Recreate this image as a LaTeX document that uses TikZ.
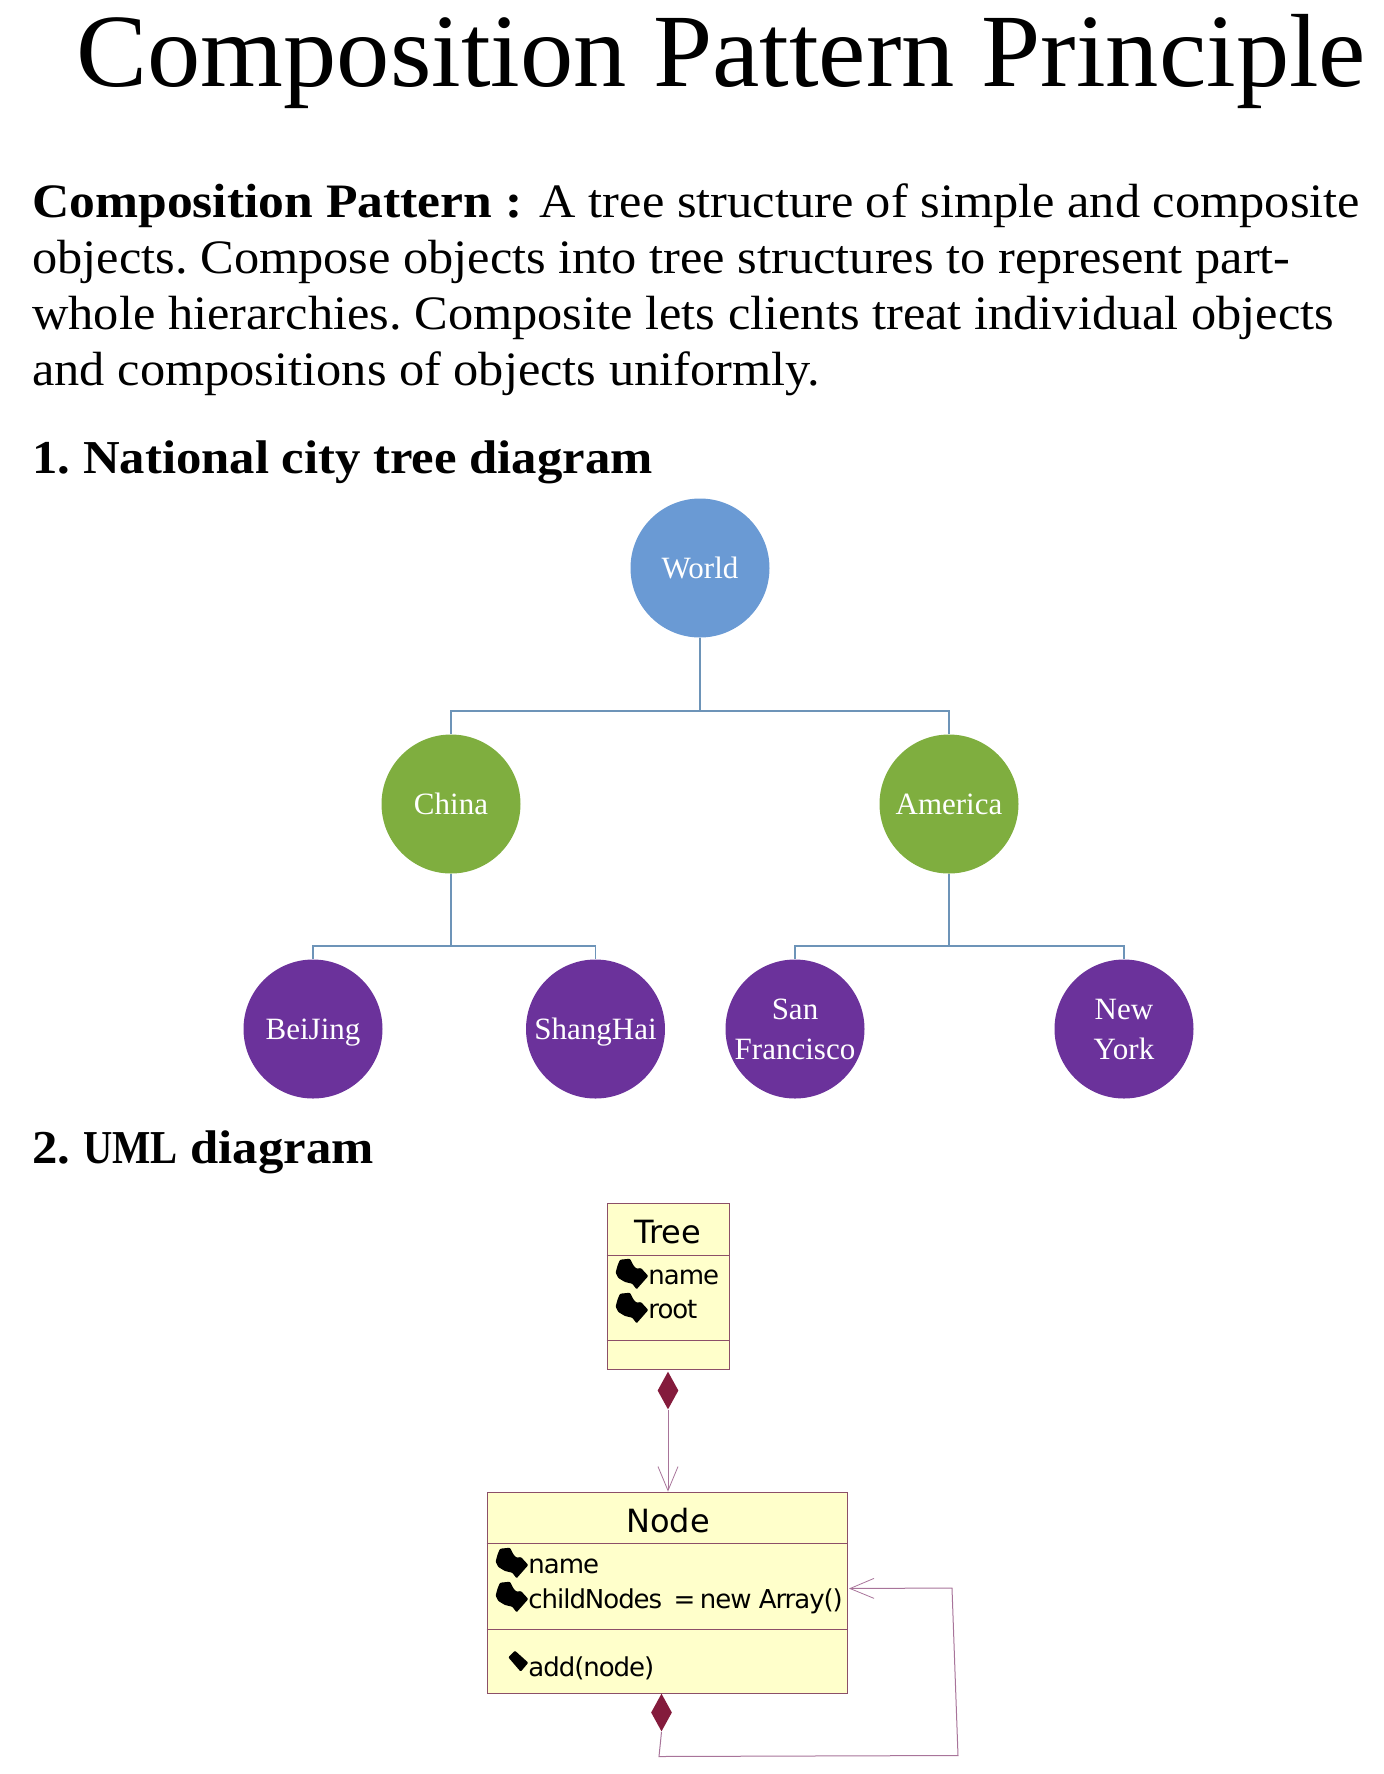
\documentclass[tikz,border=0pt]{standalone}
\usepackage{graphicx}
\usepackage{fontspec}
\usetikzlibrary{positioning, arrows.meta, shapes.geometric}
\setmainfont[FakeStretch=1.05, BoldFeatures={FakeStretch=1.075}]{Liberation Serif}
\newfontfamily\titlefont[FakeStretch=1.024]{Liberation Serif}
\newfontfamily\cityfont{Liberation Serif}
\newfontfamily\umlfont{DejaVu Sans}
\newfontfamily\umltextfont[LetterSpace=-4]{DejaVu Sans}

\definecolor{worldblue}{HTML}{6A9AD4}
\definecolor{countrygreen}{HTML}{7FAE3F}
\definecolor{citypurple}{HTML}{6B329B}
\definecolor{branchblue}{HTML}{6D94B8}
\definecolor{umlfill}{HTML}{FFFFCB}
\definecolor{umlred}{HTML}{841B3C}
\definecolor{umlborder}{HTML}{8C4F68}
\definecolor{umlline}{HTML}{A8749A}

\tikzset{
  heading/.style={anchor=base west, inner sep=0pt, font=\fontsize{23.6}{28}\selectfont\bfseries},
  circlenode/.style={circle, minimum size=69.5pt, inner sep=0pt, text=white, align=center,
    font=\cityfont\fontsize{15.5}{20}\selectfont},
  worldnode/.style={circlenode, fill=worldblue},
  countrynode/.style={circlenode, fill=countrygreen},
  citynode/.style={circlenode, fill=citypurple},
  branch/.style={draw=branchblue, line width=0.7pt},
  umlbox/.style={draw=umlborder, fill=umlfill, line width=0.4pt},
  umlrule/.style={draw=umlborder, line width=0.4pt},
  umltitle/.style={inner sep=0pt, font=\umlfont\fontsize{16}{18}\selectfont},
  umltext/.style={anchor=base west, inner sep=0pt, font=\umltextfont\fontsize{13}{14}\selectfont},
  composite/.style={diamond, fill=umlred, inner sep=0pt, minimum width=10.5pt, minimum height=19pt, aspect=0.55},
  assoc/.style={draw=umlline, line width=0.5pt, -{Straight Barb[length=12pt,width=10pt,line width=0.4pt]}},
  blob/.pic={
    \fill[black, rounded corners=0.5pt] (-28.3,-16.3) -- (-18.3,-17.3) -- (-15,-10.7) -- (-11.7,-7.3) -- (-7.3,-8) -- (0,0)
      -- (-11.7,13.3) -- (-16,7.7) -- (-23.3,6) -- (-30,2) -- (-32.7,-3.3) -- (-30.7,-10.7) -- cycle;
  },
}

\begin{document}
\begin{tikzpicture}[x=0.5pt, y=-0.5pt, on grid]
  \useasboundingbox (0,0) rectangle (1384,1774);

  \node[anchor=base west, inner sep=0pt, font=\titlefont\fontsize{52}{60}\selectfont] (title) at (76,86) {Composition Pattern Principle};

  \node[anchor=base west, inner sep=0pt, align=left, font=\fontsize{24}{28}\selectfont\frenchspacing] (intro) at (32,385)
    {\textbf{Composition Pattern :}\hspace{8.7pt}A tree structure of simple and composite\\
     objects. Compose objects into tree structures to represent part-\\
     whole hierarchies. Composite lets clients treat individual objects\\
     and compositions of objects uniformly.};

  \node[heading] (headone) at (32,473) {\frenchspacing 1. National city tree diagram};
  \node[heading] (headtwo) at (32,1163) {\frenchspacing 2. \scalebox{0.8}[1]{UML} diagram};

  % tree
  \node[worldnode] (world) at (700,568) {World};
  \node[countrynode] (china) [below left=118pt and 124.5pt of world] {China};
  \node[countrynode] (america) [below right=118pt and 124.5pt of world] {America};
  \node[citynode, text depth=0pt] (beijing) [below left=112.5pt and 69pt of china] {BeiJing};
  \node[citynode, text depth=0pt] (shanghai) [below right=112.5pt and 72.25pt of china] {ShangHai};
  \node[citynode] (sanfran) [below left=112.5pt and 77pt of america] {San\\Francisco};
  \node[citynode] (newyork) [below right=112.5pt and 87.5pt of america] {New\\York};

  \coordinate (worldbus) at (700,711);
  \coordinate (chinabus) at (china |- 0,946);
  \coordinate (americabus) at (america |- 0,946);

  \draw[branch] (world) -- (worldbus);
  \draw[branch] (worldbus) -| (china);
  \draw[branch] (worldbus) -| (america);
  \draw[branch] (china) -- (chinabus);
  \draw[branch] (chinabus) -| (beijing);
  \draw[branch] (chinabus) -| (shanghai);
  \draw[branch] (america) -- (americabus);
  \draw[branch] (americabus) -| (sanfran);
  \draw[branch] (americabus) -| (newyork);

  % uml
  \node[umlbox, minimum width=61pt, minimum height=83pt, inner sep=0pt] (tree) at (668,1286.5) {};
  \draw[umlrule] (tree.west |- 0,1255) -- (tree.east |- 0,1255);
  \draw[umlrule] (tree.west |- 0,1340) -- (tree.east |- 0,1340);
  \node[umltitle] (treetitle) at (668,1232) {Tree};
  \pic at (648.3,1276) {blob};
  \pic at (648.3,1310) {blob};
  \node[umltext] (treename) at (648,1284) {name};
  \node[umltext] (treeroot) at (648,1318) {root};

  \node[umlbox, minimum width=180pt, minimum height=100.5pt, inner sep=0pt] (nodebox) at (667,1592.5) {};
  \draw[umlrule] (nodebox.west |- 0,1543) -- (nodebox.east |- 0,1543);
  \draw[umlrule] (nodebox.west |- 0,1629) -- (nodebox.east |- 0,1629);
  \node[umltitle] (nodetitle) at (668,1521) {Node};
  \pic at (528.3,1565) {blob};
  \pic at (528.3,1599) {blob};
  \node[umltext] (nodename) at (528,1573) {name};
  \node[umltext] (nodechild) at (528,1608) {childNodes \,=\,new Array()};
  \fill[black, rounded corners=0.5pt] (508.3,1657.3) -- (515,1650.7) -- (528.3,1662.7) -- (520.7,1671.7) -- cycle;
  \node[umltext] (nodeadd) at (528,1676) {add(node)};

  \node[composite] (treediamond) at (668,1390.5) {};
  \node[composite] (nodediamond) at (661.5,1712.5) {};
  \draw[assoc] (treediamond) -- (nodebox.north -| treediamond);
  \coordinate (loopa) at (659,1756.5);
  \coordinate (loopb) at (958,1755.5);
  \coordinate (loopc) at (952,1588);
  \coordinate (looptip) at (849,1588.5);
  \draw[assoc] (nodediamond.south) -- (loopa) -- (loopb) -- (loopc) -- (looptip);
\end{tikzpicture}
\end{document}
